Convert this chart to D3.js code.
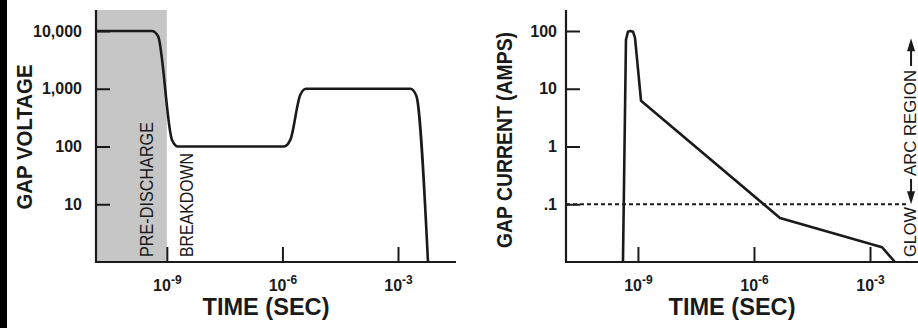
<!DOCTYPE html>
<html>
<head>
<meta charset="utf-8">
<script src="https://cdn.jsdelivr.net/npm/d3@7"></script>
<style>
  body { margin: 0; background: #fff; }
  svg { display: block; font-family: "Liberation Sans Narrow", "Arial Narrow", "Liberation Sans", Arial, sans-serif; }
</style>
</head>
<body>
<div id="chart"></div>
<script>
'use strict';

// gap voltage vs time (left panel)
const voltTimes  = [1.45e-11, 4.1e-10, 5.9e-10, 1.36e-9, 1.95e-9, 1.1e-6, 1.6e-6, 2.9e-6, 4.1e-6, 2.1e-3, 3.0e-3, 6.0e-3];
const voltValues = [10000, 10000, 8200, 130, 100, 100, 130, 780, 1000, 1000, 750, 1];

// gap current vs time (right panel)
const currTimes  = [4.1e-10, 4.9e-10, 5.5e-10, 6.4e-10, 7.5e-10, 8.4e-10, 1.2e-9, 4.7e-6, 2.05e-3, 4.4e-3];
const currValues = [0.01, 70, 97, 100, 97, 76, 6.2, 0.058, 0.018, 0.01];

const voltTicks = [10, 100, 1000, 10000];
const voltTickLabels = ['10', '100', '1,000', '10,000'];
const currTicks = [0.1, 1, 10, 100];
const currTickLabels = ['.1', '1', '10', '100'];
const timeTicks = [1e-9, 1e-6, 1e-3];
const timeTickExps = ['-9', '-6', '-3'];

const preDischargeEnd = 1e-9;
const glowArcLevel = 0.1;
const arcArrowTime = 1.15e-2;
const arcArrowTop = 75;

const width = 918, height = 331;
const ink = '#1a1a1a';
const boldFont = 'Liberation Sans, Arial, sans-serif';

const svg = d3.select('#chart').append('svg')
  .attr('width', width)
  .attr('height', height);

// black strip on the left edge
svg.append('rect').attr('x', 0).attr('y', 0).attr('width', 7).attr('height', 328).attr('fill', '#000');

//scales
let xL = d3.scaleLog().domain([1.45e-11, 3.2e-2]).range([96, 456]);
let yL = d3.scaleLog().domain([1, 23100]).range([262, 10]);
let xR = d3.scaleLog().domain([1.38e-11, 1.74e-2]).range([566, 918]);
let yR = d3.scaleLog().domain([0.01, 231]).range([262, 10]);

// shaded pre-discharge region
svg.append('rect')
  .attr('x', xL.range()[0])
  .attr('y', yL.range()[1])
  .attr('width', xL(preDischargeEnd) - xL.range()[0])
  .attr('height', yL.range()[0] - yL.range()[1])
  .attr('fill', '#c6c6c6');

const drawAxes = (x, y, yTicks, yLabels, labelGap) => {
  let yAxis = d3.axisLeft(y)
    .tickValues(yTicks)
    .tickFormat((d, i) => yLabels[i])
    .tickSize(-14)
    .tickPadding(labelGap);
  let gy = svg.append('g')
    .attr('class', 'y axis')
    .attr('transform', 'translate(' + x.range()[0] + ',0)')
    .call(yAxis);
  gy.select('.domain').remove();
  gy.selectAll('line').attr('stroke', ink).attr('stroke-width', 2);
  gy.selectAll('text')
    .attr('fill', ink)
    .attr('font-size', 16)
    .attr('font-weight', 'bold')
    .attr('font-family', boldFont);

  let xAxis = d3.axisBottom(x)
    .tickValues(timeTicks)
    .tickFormat('')
    .tickSize(-15);
  let gx = svg.append('g')
    .attr('class', 'x axis')
    .attr('transform', 'translate(0,' + y.range()[0] + ')')
    .call(xAxis);
  gx.select('.domain').remove();
  gx.selectAll('line').attr('stroke', ink).attr('stroke-width', 2);
  gx.selectAll('.tick').each(function (d, i) {
    let t = d3.select(this).append('text')
      .attr('y', 29)
      .attr('x', 0)
      .attr('text-anchor', 'middle')
      .attr('fill', ink)
      .attr('font-weight', 'bold')
      .attr('font-family', boldFont)
      .attr('font-size', 16);
    t.append('tspan').text('10');
    t.append('tspan').attr('font-size', 12).attr('dy', -7).text(timeTickExps[i]);
  });

  // axis lines
  svg.append('path')
    .attr('d', 'M' + x.range()[0] + ',' + y.range()[1] + 'V' + y.range()[0] + 'H' + x.range()[1])
    .attr('fill', 'none')
    .attr('stroke', ink)
    .attr('stroke-width', 2.2);

  svg.append('text')
    .attr('x', (x.range()[0] + x.range()[1]) / 2 - 10)
    .attr('y', 315)
    .attr('text-anchor', 'middle')
    .attr('font-size', 23)
    .attr('font-weight', 'bold')
    .attr('font-family', boldFont)
    .attr('fill', ink)
    .attr('textLength', 127)
    .attr('lengthAdjust', 'spacingAndGlyphs')
    .text('TIME (SEC)');
};

drawAxes(xL, yL, voltTicks, voltTickLabels, 14);
drawAxes(xR, yR, currTicks, currTickLabels, 9);

const yTitle = (txt, cx, cy, len) => {
  svg.append('text')
    .attr('transform', 'translate(' + cx + ',' + cy + ') rotate(-90)')
    .attr('text-anchor', 'middle')
    .attr('font-size', 22)
    .attr('font-weight', 'bold')
    .attr('font-family', boldFont)
    .attr('fill', ink)
    .attr('textLength', len)
    .attr('lengthAdjust', 'spacingAndGlyphs')
    .text(txt);
};
yTitle('GAP VOLTAGE', 32, 137, 145);
yTitle('GAP CURRENT (AMPS)', 512, 140, 216);

// curves
let lineL = d3.line()
  .x((d) => xL(d.t))
  .y((d) => yL(d.v))
  .curve(d3.curveMonotoneX);

svg.append('path')
  .datum(voltTimes.map((t, i) => ({ t: t, v: voltValues[i] })))
  .attr('d', lineL)
  .attr('fill', 'none')
  .attr('stroke', ink)
  .attr('stroke-width', 2.6)
  .attr('stroke-linejoin', 'round');

let lineR = d3.line()
  .x((d) => xR(d.t))
  .y((d) => yR(d.v));

svg.append('path')
  .datum(currTimes.map((t, i) => ({ t: t, v: currValues[i] })))
  .attr('d', lineR)
  .attr('fill', 'none')
  .attr('stroke', ink)
  .attr('stroke-width', 2.6)
  .attr('stroke-linejoin', 'round');

// glow / arc boundary
svg.append('line')
  .attr('x1', xR.range()[0])
  .attr('x2', xR(9.1e-3))
  .attr('y1', yR(glowArcLevel))
  .attr('y2', yR(glowArcLevel))
  .attr('stroke', ink)
  .attr('stroke-width', 1.8)
  .attr('stroke-dasharray', '4,3');

// rotated region labels
const sideLabel = (txt, x, y, len, size) => {
  svg.append('text')
    .attr('transform', 'translate(' + x + ',' + y + ') rotate(-90)')
    .attr('font-size', size)
    .attr('fill', ink)
    .attr('textLength', len)
    .attr('lengthAdjust', 'spacingAndGlyphs')
    .text(txt);
};
sideLabel('PRE-DISCHARGE', 153, 257, 135, 18);
sideLabel('BREAKDOWN', 193, 257, 104, 18);

let ax = xR(arcArrowTime);
sideLabel('GLOW', ax + 5, 257, 50, 16);
sideLabel('ARC REGION', ax + 5, 176, 106, 16);

let aTop = yR(arcArrowTop), aBot = yR(glowArcLevel);
svg.append('line').attr('x1', ax).attr('x2', ax).attr('y1', aTop + 8).attr('y2', 66)
  .attr('stroke', ink).attr('stroke-width', 2);
svg.append('line').attr('x1', ax).attr('x2', ax).attr('y1', 179).attr('y2', aBot - 8)
  .attr('stroke', ink).attr('stroke-width', 2);
svg.append('path')
  .attr('d', 'M' + ax + ',' + aTop + 'l-4,13h8z')
  .attr('fill', ink);
svg.append('path')
  .attr('d', 'M' + ax + ',' + aBot + 'l-4,-13h8z')
  .attr('fill', ink);
</script>
</body>
</html>
